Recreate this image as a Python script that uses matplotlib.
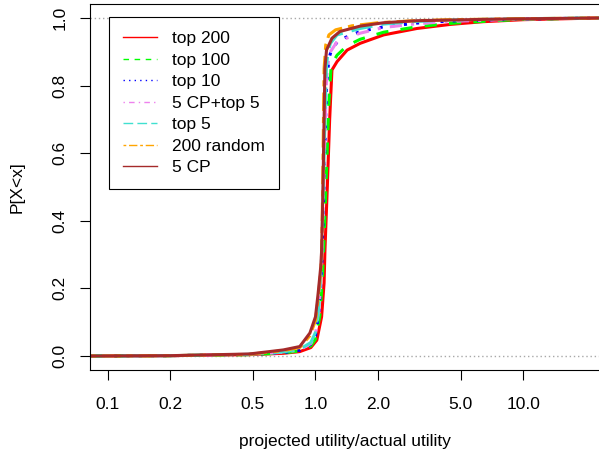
import matplotlib
matplotlib.use("Agg")
import matplotlib.pyplot as plt
from matplotlib.lines import Line2D

plt.rcParams['font.family'] = ['Liberation Sans', 'DejaVu Sans']

# ---- data (ECDF knots) ----
labels = ["top 200", "top 100", "top 10", "5 CP+top 5", "top 5", "200 random", "5 CP"]
colors = ["#FF0000", "#00FF00", "#0000FF", "#EE82EE", "#40E0D0", "#FFA500", "#A52A2A"]

x_top200 = [0.082, 0.2, 0.48, 0.7, 0.84, 0.95, 1.015, 1.07, 1.10, 1.11, 1.14, 1.17, 1.20, 1.27, 1.42, 1.64, 2.13, 3.08, 4.45, 6.4, 10.0, 23.2]
y_top200 = [0.0, 0.001, 0.004, 0.008, 0.013, 0.025, 0.047, 0.116, 0.216, 0.31, 0.50, 0.70, 0.846, 0.871, 0.905, 0.925, 0.95, 0.969, 0.981, 0.989, 0.995, 1.0]

x_top100 = [0.082, 0.2, 0.48, 0.7, 0.84, 0.95, 1.0, 1.05, 1.08, 1.10, 1.13, 1.16, 1.19, 1.27, 1.42, 1.64, 2.13, 3.08, 4.45, 6.4, 10.0, 23.2]
y_top100 = [0.0, 0.001, 0.004, 0.009, 0.015, 0.03, 0.05, 0.12, 0.23, 0.35, 0.55, 0.75, 0.86, 0.89, 0.918, 0.937, 0.958, 0.974, 0.984, 0.99, 0.996, 1.0]

x_top10 = [0.082, 0.2, 0.48, 0.7, 0.84, 0.95, 1.0, 1.04, 1.07, 1.09, 1.11, 1.13, 1.16, 1.2, 1.3, 1.64, 2.13, 3.08, 4.45, 10.0, 23.2]
y_top10 = [0.0, 0.001, 0.005, 0.01, 0.017, 0.035, 0.06, 0.13, 0.25, 0.42, 0.62, 0.8, 0.88, 0.91, 0.935, 0.96, 0.974, 0.985, 0.991, 0.997, 1.0]

x_cptop5 = [0.082, 0.2, 0.48, 0.7, 0.84, 0.95, 1.0, 1.04, 1.07, 1.09, 1.11, 1.13, 1.16, 1.18, 1.27, 1.64, 2.13, 3.08, 4.45, 10.0, 23.2]
y_cptop5 = [0.0, 0.001, 0.005, 0.011, 0.018, 0.037, 0.065, 0.14, 0.27, 0.45, 0.65, 0.82, 0.885, 0.9, 0.93, 0.955, 0.972, 0.983, 0.99, 0.997, 1.0]

x_top5 = [0.082, 0.2, 0.48, 0.7, 0.84, 0.95, 1.0, 1.04, 1.07, 1.09, 1.11, 1.13, 1.15, 1.18, 1.27, 1.64, 2.13, 3.08, 4.45, 10.0, 23.2]
y_top5 = [0.0, 0.001, 0.005, 0.012, 0.02, 0.04, 0.07, 0.15, 0.29, 0.48, 0.7, 0.86, 0.9, 0.925, 0.95, 0.969, 0.982, 0.99, 0.994, 0.998, 1.0]

x_random = [0.082, 0.2, 0.48, 0.7, 0.84, 0.94, 1.0, 1.03, 1.06, 1.07, 1.08, 1.09, 1.10, 1.12, 1.16, 1.25, 1.5, 2.0, 3.0, 4.45, 10.0, 23.2]
y_random = [0.0, 0.001, 0.005, 0.016, 0.025, 0.06, 0.105, 0.17, 0.25, 0.3, 0.45, 0.65, 0.85, 0.92, 0.95, 0.965, 0.977, 0.986, 0.992, 0.995, 0.998, 1.0]

x_cp5 = [0.082, 0.2, 0.48, 0.7, 0.84, 0.94, 1.0, 1.03, 1.06, 1.07, 1.08, 1.09, 1.10, 1.11, 1.13, 1.2, 1.31, 1.64, 2.13, 3.08, 4.45, 8.0, 23.2]
y_cp5 = [0.0, 0.001, 0.006, 0.018, 0.028, 0.068, 0.116, 0.186, 0.264, 0.31, 0.42, 0.55, 0.70, 0.85, 0.905, 0.94, 0.96, 0.976, 0.986, 0.992, 0.994, 0.997, 1.0]

xs = [x_top200, x_top100, x_top10, x_cptop5, x_top5, x_random, x_cp5]
ys = [y_top200, y_top100, y_top10, y_cptop5, y_top5, y_random, y_cp5]

x_ticks = [0.1, 0.2, 0.5, 1.0, 2.0, 5.0, 10.0]
x_ticklabels = ["0.1", "0.2", "0.5", "1.0", "2.0", "5.0", "10.0"]
y_ticks = [0.0, 0.2, 0.4, 0.6, 0.8, 1.0]
y_ticklabels = ["0.0", "0.2", "0.4", "0.6", "0.8", "1.0"]

styles = ["-", (0, (4, 4)), (0, (1, 3)), (0, (1, 3, 4, 3)), (0, (7, 3)), (0, (2, 2, 6, 2)), "-"]

FS = 12.5
fig = plt.figure(figsize=(5.99, 4.59), dpi=100)
W, H = 599, 459
ax = fig.add_axes([90 / W, (H - 370) / H, 1 - 90 / W, (370 - 4) / H])

ax.axhline(0, color="#A8A8A8", lw=1.0, ls=(0, (1, 2)), zorder=1)
ax.axhline(1, color="#A8A8A8", lw=1.0, ls=(0, (1, 2)), zorder=1)

for x, y, c, s in zip(xs, ys, colors, styles):
    ax.plot(x, y, color=c, lw=2.2, ls=s, zorder=2)

ax.set_xscale("log")
ax.set_xlim(0.0822, 23.14)
ax.set_ylim(-0.0414, 1.0414)
ax.set_xticks(x_ticks)
ax.set_xticklabels(x_ticklabels, fontsize=FS)
ax.xaxis.set_minor_locator(matplotlib.ticker.NullLocator())
ax.set_yticks(y_ticks)
ax.set_yticklabels(y_ticklabels, fontsize=FS, rotation=90, va="center")
ax.tick_params(axis="x", direction="out", length=7.2, width=0.8, pad=12)
ax.tick_params(axis="y", direction="out", length=7.2, width=0.8, pad=9)

for side in ["left", "bottom", "top"]:
    ax.spines[side].set_linewidth(0.8)
    ax.spines[side].set_color("black")
ax.spines["right"].set_visible(False)

ax.set_xlabel("projected utility/actual utility", fontsize=FS)
ax.set_ylabel("P[X<x]", fontsize=FS)
ax.xaxis.set_label_coords(0.5, -0.175)
ax.yaxis.set_label_coords(-0.1277, 0.5)

handles = [Line2D([], [], color=c, lw=1.0, ls=s) for c, s in zip(colors, styles)]
leg = ax.legend(handles, labels, loc="upper left",
                bbox_to_anchor=((109 - 90) / 509, (370 - 17) / 366),
                borderaxespad=0, fontsize=FS, fancybox=False, framealpha=1,
                edgecolor="black", handlelength=1.96, handletextpad=0.86,
                borderpad=0.8, labelspacing=0.37)
leg.get_frame().set_linewidth(0.8)

fig.savefig("out.png", dpi=100)
